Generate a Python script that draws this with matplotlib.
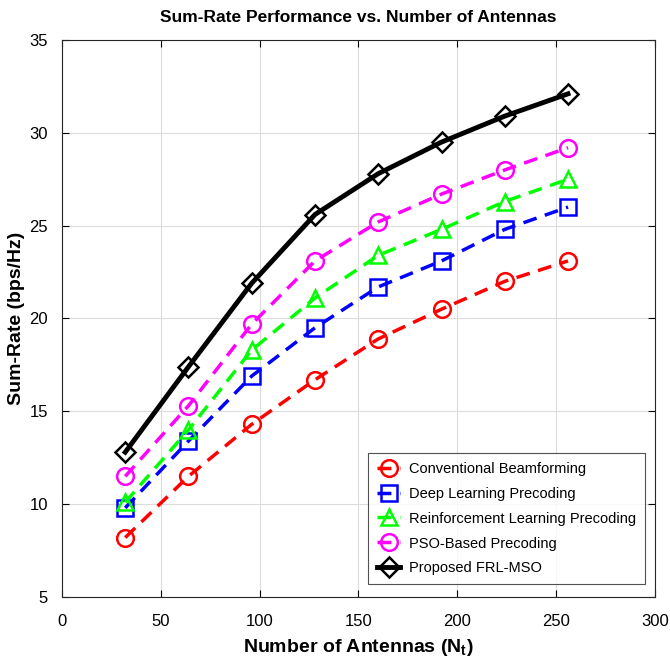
import matplotlib
matplotlib.use("Agg")
import matplotlib.pyplot as plt
from matplotlib import font_manager

fams = [f.name for f in font_manager.fontManager.ttflist]
fam = 'Liberation Sans Narrow' if 'Liberation Sans Narrow' in fams else 'Liberation Sans'
plt.rcParams['font.family'] = [fam, 'DejaVu Sans']

antennas = [32, 64, 96, 128, 160, 192, 224, 256]
conventional = [8.2, 11.5, 14.3, 16.7, 18.9, 20.5, 22.0, 23.1]
deep_learning = [9.8, 13.4, 16.9, 19.5, 21.7, 23.1, 24.8, 26.0]
reinforcement = [10.1, 14.0, 18.3, 21.1, 23.4, 24.8, 26.3, 27.5]
pso = [11.5, 15.3, 19.7, 23.1, 25.2, 26.7, 28.0, 29.2]
proposed = [12.8, 17.4, 21.9, 25.6, 27.8, 29.5, 30.9, 32.1]

labels = ['Conventional Beamforming', 'Deep Learning Precoding',
          'Reinforcement Learning Precoding', 'PSO-Based Precoding', 'Proposed FRL-MSO']

fig = plt.figure(figsize=(6.7, 6.64), dpi=100)
ax = fig.add_axes([0.0925, 0.1009, 0.8851, 0.8389])

ax.plot(antennas, conventional, color='#ff0000', ls='--', dashes=(4, 2.5), lw=2.5,
        marker='o', ms=12, mfc='none', mew=1.8, label=labels[0])
ax.plot(antennas, deep_learning, color='#0000ff', ls='--', dashes=(4, 2.5), lw=2.5,
        marker='s', ms=12, mfc='none', mew=1.8, label=labels[1])
ax.plot(antennas, reinforcement, color='#00ff00', ls='--', dashes=(4, 2.5), lw=2.5,
        marker='^', ms=12, mfc='none', mew=1.8, label=labels[2])
ax.plot(antennas, pso, color='#ff00ff', ls='--', dashes=(4, 2.5), lw=2.5,
        marker='o', ms=12, mfc='none', mew=1.8, label=labels[3])
ax.plot(antennas, proposed, color='black', ls='-', lw=3.5,
        marker='D', ms=10, mfc='none', mew=1.8, label=labels[4])

ax.set_xlim(0, 300)
ax.set_ylim(5, 35)
ax.set_xticks([0, 50, 100, 150, 200, 250, 300])
ax.set_yticks([5, 10, 15, 20, 25, 30, 35])
ax.grid(True, color='#dcdcdc', lw=0.8)
ax.tick_params(direction='in', length=5, labelsize=12, top=True, right=True)
ax.tick_params(axis='x', pad=12)
ax.tick_params(axis='y', pad=10)
for s in ax.spines.values():
    s.set_linewidth(0.8)
    s.set_color('#262626')

ax.set_title('Sum-Rate Performance vs. Number of Antennas', fontsize=12.5, fontweight='bold', pad=13)
ax.set_xlabel('Number of Antennas (N$_\\mathregular{t}$)', fontsize=14, fontweight='bold', labelpad=6)
ax.set_ylabel('Sum-Rate (bps/Hz)', fontsize=14, fontweight='bold', labelpad=3)

leg = ax.legend(loc='lower right', bbox_to_anchor=(0.983, 0.023), borderaxespad=0,
                fontsize=10.5, frameon=True,
                fancybox=False, edgecolor='#262626', handlelength=1.6, borderpad=0.6,
                labelspacing=0.75, handletextpad=0.6)
leg.get_frame().set_linewidth(0.8)

fig.savefig('out.png', dpi=100)
